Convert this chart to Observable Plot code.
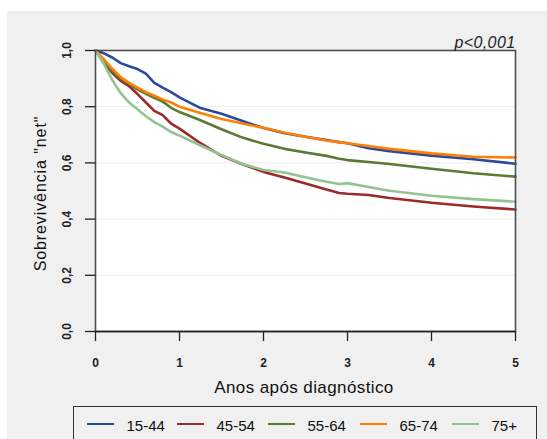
<!DOCTYPE html>
<html><head><meta charset="utf-8">
<script src="https://cdn.jsdelivr.net/npm/d3@7"></script>
<script src="https://cdn.jsdelivr.net/npm/@observablehq/plot@0.6"></script>
<style>
html,body{margin:0;padding:0;background:#fff;width:547px;height:439px;overflow:hidden;font-family:Arial,"Liberation Sans",sans-serif;}
#panel{position:absolute;left:7px;top:11px;right:0;bottom:0;background:#f0f0f0;}
#chart{position:absolute;left:0;top:0;}
#legend{position:absolute;left:73px;top:406px;width:464px;height:50px;border:1px solid #333;box-sizing:border-box;background:#f0f0f0;}
.item{position:absolute;top:10px;height:16px;display:flex;align-items:center;font-size:15px;color:#111;white-space:nowrap;}
.sw{display:inline-block;width:27px;height:2.6px;margin-right:12.5px;margin-top:-2px;}
</style></head><body>
<div id="panel"></div>
<div id="chart"></div>
<div id="legend"></div>
<script>
const years  = [0,0.1,0.2,0.3,0.4,0.5,0.6,0.7,0.8,0.9,1.0,1.25,1.5,1.75,2.0,2.25,2.5,2.75,2.9,3.0,3.25,3.5,4.0,4.5,5.0];
const s15_44 = [1.000,0.990,0.975,0.955,0.944,0.934,0.918,0.885,0.868,0.852,0.833,0.795,0.775,0.749,0.724,0.706,0.693,0.681,0.674,0.670,0.652,0.642,0.626,0.613,0.597];
const s45_54 = [1.000,0.955,0.920,0.892,0.873,0.845,0.815,0.785,0.770,0.740,0.722,0.670,0.625,0.595,0.568,0.548,0.527,0.505,0.493,0.490,0.486,0.475,0.458,0.445,0.434];
const s55_64 = [1.000,0.962,0.925,0.900,0.880,0.862,0.846,0.832,0.818,0.796,0.781,0.752,0.720,0.690,0.668,0.650,0.637,0.625,0.615,0.610,0.603,0.596,0.579,0.563,0.551];
const s65_74 = [1.000,0.968,0.935,0.905,0.885,0.868,0.852,0.839,0.826,0.815,0.800,0.778,0.756,0.740,0.725,0.707,0.693,0.680,0.674,0.670,0.660,0.650,0.634,0.622,0.619];
const s75p   = [1.000,0.952,0.895,0.848,0.815,0.791,0.766,0.745,0.729,0.710,0.697,0.662,0.628,0.596,0.575,0.566,0.549,0.533,0.525,0.528,0.514,0.501,0.483,0.471,0.462];
const groups = ["15-44","45-54","55-64","65-74","75+"];
const colors = ["#2B4A9A","#9B2A2A","#5A7A32","#FF8000","#92C492"];
const xTicks = [0,1,2,3,4,5];
const yTicks = [0,0.2,0.4,0.6,0.8,1.0];
const gridVals = [0.2,0.4,0.6,0.8];
const pText = "p<0,001";
const xLabel = "Anos após diagnóstico";
const yLabel = "Sobrevivência \"net\"";

const seriesList = [s15_44,s45_54,s55_64,s65_74,s75p];
const rows = [];
seriesList.forEach((s,i)=>s.forEach((v,j)=>rows.push({t:years[j],v:v,g:groups[i]})));

const comma = d => d.toFixed(1).replace(".", ",");

const plot = Plot.plot({
  width:547, height:400,
  marginLeft:95, marginRight:32, marginTop:50, marginBottom:69,
  style:{background:"transparent", fontFamily:"Arial, 'Liberation Sans', sans-serif", overflow:"visible", color:"#222"},
  x:{domain:[0,5]},
  y:{domain:[0,1]},
  color:{domain:groups, range:colors},
  marks:[
    Plot.frame({fill:"white"}),
    Plot.ruleY(gridVals,{stroke:"#ececec", strokeWidth:1}),
    Plot.line(rows,{x:"t", y:"v", z:"g", stroke:"g", strokeWidth:2.6}),
    Plot.frame({stroke:"#4d4d4d", strokeWidth:1.6}),
    Plot.ruleY([0],{stroke:"#222", strokeWidth:1.3}),
    Plot.axisX({ticks:xTicks, tickSize:10, tickPadding:17, tickFormat:d=>String(d), fontSize:12, fontWeight:"bold", label:null, stroke:"#222", strokeWidth:1.3}),
    Plot.axisY({ticks:yTicks, tickSize:10, tickFormat:()=>"", label:null, stroke:"#222", strokeWidth:1.3}),
    Plot.text(yTicks,{y:d=>d, text:comma, frameAnchor:"left", dx:-28, rotate:-90, fontSize:12, fontWeight:"bold", textAnchor:"middle", lineAnchor:"middle", fill:"#222"}),
    Plot.text([pText],{frameAnchor:"top-right", dy:-3, textAnchor:"end", lineAnchor:"bottom", fontStyle:"italic", fontSize:16, fill:"#222"}),
    Plot.text([yLabel],{frameAnchor:"left", dx:-55, dy:2.5, rotate:-90, textAnchor:"middle", lineAnchor:"middle", fontSize:16, fill:"#111"}),
    Plot.text([xLabel],{frameAnchor:"bottom", dx:-1.5, dy:56, textAnchor:"middle", lineAnchor:"middle", fontSize:17, fill:"#111"})
  ]
});
d3.select(plot).selectAll("text").each(function(){
  const t = this.textContent;
  if (t === yLabel) this.style.letterSpacing = "0.9px";
  if (t === xLabel) this.style.letterSpacing = "0.4px";
  if (t === pText) this.style.letterSpacing = "0.4px";
});
document.getElementById("chart").appendChild(plot);

const legendLefts = [13,103,194,286,378];
const leg = document.getElementById("legend");
groups.forEach((g,i)=>{
  const it = document.createElement("div");
  it.className = "item";
  it.style.left = legendLefts[i] + "px";
  const sw = document.createElement("span");
  sw.className = "sw";
  sw.style.background = colors[i];
  const tx = document.createElement("span");
  tx.textContent = g;
  it.appendChild(sw); it.appendChild(tx);
  leg.appendChild(it);
});
</script>
</body></html>
